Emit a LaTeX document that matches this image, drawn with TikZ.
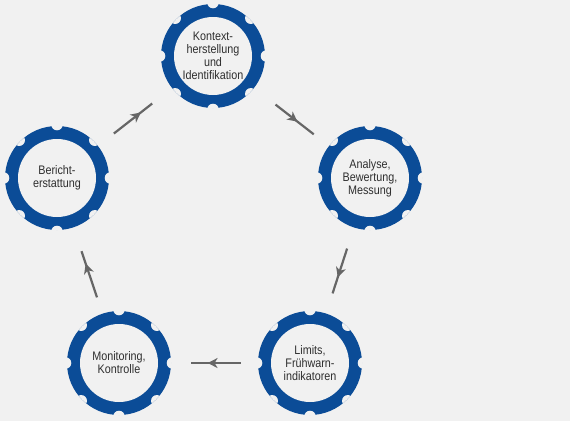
\documentclass[tikz,border=0pt]{standalone}
\usepackage{fontspec}
\setmainfont[FakeStretch=0.87]{Liberation Sans}
\usepackage{xcolor}
\usepackage{tikz}
\usetikzlibrary{arrows.meta,decorations.markings}
\definecolor{ring}{HTML}{0B4C97}
\definecolor{paper}{HTML}{F1F1F1}
\definecolor{ink}{HTML}{2E2E2E}
\definecolor{flow}{HTML}{666666}

\begin{document}
\begin{tikzpicture}[x=1pt, y=-1pt,
  font=\fontsize{12.4}{13}\selectfont,
  gear/.style={circle, fill=ring, minimum size=104pt, inner sep=0pt, align=center, text=ink,
    path picture={
      \fill[paper] (path picture bounding box.center) circle (39pt);
      \foreach \a in {0,45,...,315}
        \fill[paper] ([shift={(\a:53.5pt)}]path picture bounding box.center) circle (5.8pt);
    }},
  link/.style={flow, line width=2.2pt, postaction={decorate},
    decoration={markings, mark=at position 0.58 with {\arrow{Stealth[length=10pt,width=10pt,inset=3pt]}}}}
  ]
  \fill[paper] (0,0) rectangle (570,421);
  \useasboundingbox (0,0) rectangle (570,421);
  % Gears
  \node[gear] (kontext)    at (213,56)  {Kontext-\\herstellung\\und\\Identifikation};
  \node[gear] (analyse)    at (370,178) {Analyse,\\Bewertung,\\Messung};
  \node[gear] (limits)     at (310,363) {Limits,\\Frühwarn-\\indikatoren};
  \node[gear] (monitoring) at (119,363) {Monitoring,\\Kontrolle};
  \node[gear] (bericht)    at (57,178)  {Bericht-\\erstattung};

  % edges
  \draw[link, shorten <=20pt, shorten >=25pt] (bericht) -- (kontext);
  \draw[link, shorten <=27pt, shorten >=19pt] (kontext) -- (analyse);
  \draw[link, shorten <=22pt, shorten >=21pt] (analyse) -- (limits);
  \draw[link, shorten <=17pt, shorten >=20pt] (limits) -- (monitoring);
  \draw[link, shorten <=17pt, shorten >=25pt] (monitoring) -- (bericht);
\end{tikzpicture}
\end{document}
